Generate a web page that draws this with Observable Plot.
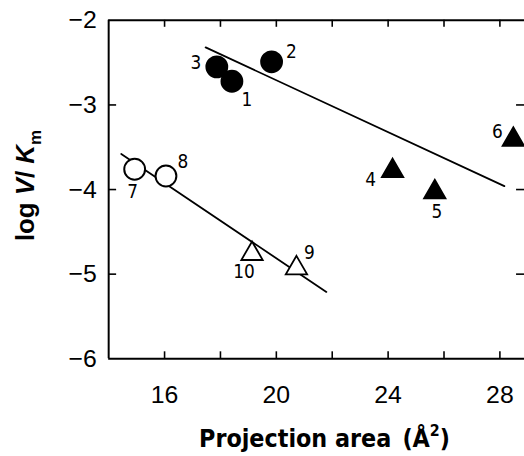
<!DOCTYPE html>
<html>
<head>
<meta charset="utf-8">
<script src="https://cdn.jsdelivr.net/npm/d3@7"></script>
<script src="https://cdn.jsdelivr.net/npm/@observablehq/plot@0.6"></script>
<style>
  html, body { margin: 0; padding: 0; background: white; }
  #chart { width: 524px; height: 456px; overflow: hidden; }
</style>
</head>
<body>
<div id="chart"></div>
<script>
// ---- data ----
const ids    = ["1", "2", "3", "4", "5", "6", "7", "8", "9", "10"];
const areas  = [18.41, 19.83, 17.87, 24.16, 25.67, 28.48, 14.93, 16.05, 20.72, 19.13];
const logVK  = [-2.72, -2.49, -2.55, -3.78, -4.03, -3.41, -3.76, -3.84, -4.93, -4.76];
const series = ["A", "A", "A", "B", "B", "B", "C", "C", "D", "D"];

// regression lines (endpoints in data units)
const upperLineX = [17.47, 28.16];
const upperLineY = [-2.32, -3.96];
const lowerLineX = [14.45, 21.79];
const lowerLineY = [-3.58, -5.21];

const xTickLabels = [16, 20, 24, 28];
const xMinorTicks = [16, 18, 20, 22, 24, 26, 28];
const yTickLabels = [-6, -5, -4, -3, -2];
const yInnerTicks = [-5, -4, -3];

// ---- derived tables ----
const points = ids.map((id, i) => ({id, x: areas[i], y: logVK[i], s: series[i]}));
const upperLine = upperLineX.map((x, i) => ({x, y: upperLineY[i]}));
const lowerLine = lowerLineX.map((x, i) => ({x, y: lowerLineY[i]}));

// ---- styling / layout ----
const W = 528, H = 456, mL = 109, mR = 0, mT = 20, mB = 95;
const plotW = W - mL - mR, plotH = H - mT - mB;
const symbolOf = {A: "circle", B: "triangle", C: "circle", D: "triangle"};
const fillOf = {A: "black", B: "black", C: "white", D: "white"};
const labelOffset = {
  "1": [15, 19], "2": [20, -10], "3": [-21, -4], "4": [-22, 9], "5": [2, 20],
  "6": [-16, -8], "7": [-2, 23], "8": [17, -14], "9": [13, -15], "10": [-8, 18]
};
const fmt = d => d < 0 ? "\u2212" + Math.abs(d) : String(d);

const marks = [
  Plot.ruleX([14], {strokeWidth: 2}),
  Plot.ruleY([-2], {strokeWidth: 2}),
  Plot.ruleY([-6], {strokeWidth: 2}),
  // inward ticks
  Plot.tickY(yInnerTicks, {y: d => d, insetRight: plotW - 8, strokeWidth: 1.6}),
  Plot.tickY(yInnerTicks, {y: d => d, insetLeft: plotW - 8, strokeWidth: 1.6}),
  Plot.tickX(xMinorTicks, {x: d => d, insetBottom: plotH - 7, strokeWidth: 1.6}),
  Plot.tickX(xMinorTicks, {x: d => d, insetTop: plotH - 7, strokeWidth: 1.6}),
  Plot.axisX({ticks: xTickLabels, tickSize: 0, tickPadding: 27, tickFormat: fmt, fontSize: 25, label: null}),
  Plot.axisY({ticks: yTickLabels, tickSize: 0, tickPadding: 12, tickFormat: fmt, fontSize: 25, label: null}),
  // regression lines
  Plot.line(upperLine, {x: "x", y: "y", strokeWidth: 1.8}),
  Plot.line(lowerLine, {x: "x", y: "y", strokeWidth: 1.8}),
  // markers
  Plot.dot(points.filter(d => symbolOf[d.s] === "circle"), {
    x: "x", y: "y", r: 10.5, symbol: "circle",
    fill: d => fillOf[d.s], stroke: "black", strokeWidth: 2
  }),
  Plot.dot(points.filter(d => symbolOf[d.s] === "triangle"), {
    x: "x", y: "y", r: 8, symbol: "triangle",
    fill: d => fillOf[d.s], stroke: "black", strokeWidth: 1.8
  }),
  ...points.map(p => Plot.text([p], {
    x: "x", y: "y", text: "id", dx: labelOffset[p.id][0], dy: labelOffset[p.id][1],
    fontSize: 19, fontFamily: "'DejaVu Sans Condensed', 'DejaVu Sans', sans-serif",
    fontStretch: "condensed", fill: "black"
  }))
];

const chart = Plot.plot({
  width: W, height: H,
  marginLeft: mL, marginRight: mR, marginTop: mT, marginBottom: mB,
  x: {domain: [14, 28.88]},
  y: {domain: [-6, -2]},
  fill: {type: "identity"},
  style: {fontFamily: "'Liberation Sans', Arial, sans-serif", fontSize: "25px", background: "white", color: "black"},
  marks
});

document.getElementById("chart").appendChild(chart);

// axis titles as real text with rich formatting
const svg = d3.select(chart);
const xt = svg.append("text")
  .attr("x", 327).attr("y", 450)
  .attr("text-anchor", "middle")
  .attr("font-family", "'DejaVu Sans Condensed', 'DejaVu Sans', sans-serif")
  .attr("font-stretch", "condensed")
  .attr("font-weight", "bold")
  .attr("font-size", 25)
  .attr("fill", "black");
xt.append("tspan").text("Projection area\u2002(\u00C5");
xt.append("tspan").attr("font-size", 16).attr("dy", -11).text("2");
xt.append("tspan").attr("dy", 11).text(")");

const yt = svg.append("text")
  .attr("transform", "translate(34,187) rotate(-90)")
  .attr("text-anchor", "middle")
  .attr("font-family", "'Liberation Sans', Arial, sans-serif")
  .attr("font-weight", "bold")
  .attr("font-size", 26)
  .attr("fill", "black");
yt.append("tspan").text("log ");
yt.append("tspan").attr("font-style", "italic").text("V");
yt.append("tspan").text("/ ");
yt.append("tspan").attr("font-style", "italic").text("K");
yt.append("tspan").attr("font-size", 17).attr("dy", 7).text("m");
</script>
</body>
</html>
